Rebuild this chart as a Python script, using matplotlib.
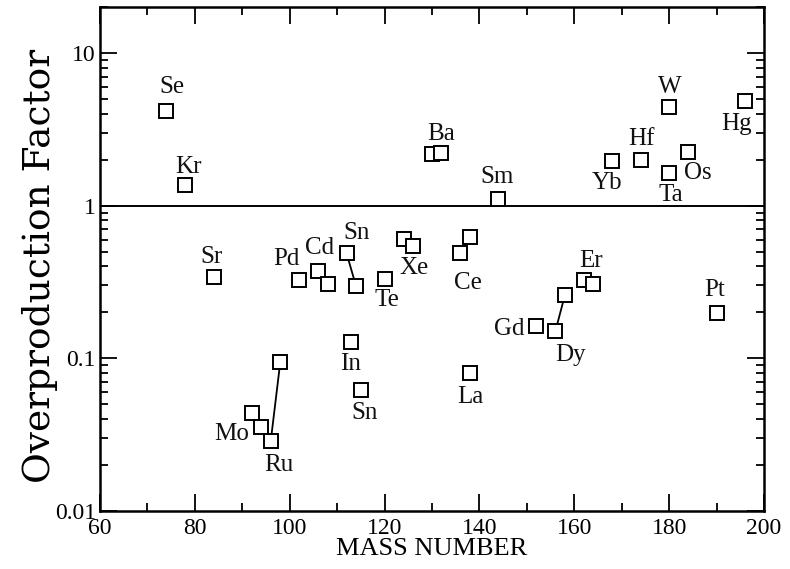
import matplotlib
matplotlib.use("Agg")
import matplotlib.pyplot as plt
from matplotlib.ticker import LogLocator, NullFormatter, MultipleLocator

# ---- data ----
mass = [74, 78, 84, 92, 94, 96, 98, 102, 106, 108, 112, 113, 114, 115, 120,
        124, 126, 130, 132, 136, 138, 138, 144, 152, 156, 158, 162, 164,
        168, 174, 180, 180, 184, 190, 196]
factor = [4.18, 1.37, 0.343, 0.0437, 0.0354, 0.0287, 0.094, 0.324, 0.376, 0.309,
          0.486, 0.127, 0.296, 0.0618, 0.333,
          0.608, 0.548, 2.19, 2.2, 0.486, 0.627, 0.0798, 1.11, 0.162, 0.150, 0.258,
          0.328, 0.305, 1.97, 2.0, 4.44, 1.64, 2.25, 0.197, 4.85]

# pairs of isotopes joined by a line (indices into mass/factor)
links = [(5, 6), (10, 12), (19, 20), (24, 25)]

# element labels: (index of point, text)
label_idx = [0, 1, 2, 4, 5, 7, 8, 10, 11, 13, 14, 16, 17, 19, 21, 22, 23, 24,
             26, 28, 29, 30, 31, 32, 33, 34]
label_txt = ["Se", "Kr", "Sr", "Mo", "Ru", "Pd", "Cd", "Sn", "In", "Sn", "Te", "Xe",
             "Ba", "Ce", "La", "Sm", "Gd", "Dy", "Er", "Yb", "Hf", "W", "Ta", "Os",
             "Pt", "Hg"]
# label offsets in pixels (layout)
label_off = [(6, 24), (3, 18), (-2, 20), (-30, -7), (8, -24), (-13, 21), (1, 23),
             (10, 20), (-1, -22), (4, -23), (2, -21), (1, -22), (9, 20), (7, -30),
             (0, -24), (-1, 22), (-27, -3), (15, -24), (7, 19), (-5, -22), (1, 21),
             (1, 20), (2, -22), (10, -21), (-2, 23), (-8, -23)]

xticks = [60, 80, 100, 120, 140, 160, 180, 200]
yticks = [0.01, 0.1, 1, 10]
ytick_labels = ["0.01", "0.1", "1", "10"]

serif = ["Liberation Serif", "DejaVu Serif"]

fig = plt.figure(figsize=(7.9, 5.69), dpi=100)
ax = fig.add_axes([100 / 790, 1 - 511 / 569, 664 / 790, 504 / 569])

ax.set_yscale("log")
ax.set_xlim(60, 200)
ax.set_ylim(0.01, 20)

ax.axhline(1, color="black", lw=1.4, zorder=1)

for i, j in links:
    ax.plot([mass[i], mass[j]], [factor[i], factor[j]], color="black", lw=1.3, zorder=2)

ax.plot(mass, factor, linestyle="none", marker="s", markersize=10.5,
        markerfacecolor="white", markeredgecolor="black", markeredgewidth=1.4, zorder=3)

for k, txt, off in zip(label_idx, label_txt, label_off):
    ax.annotate(txt, (mass[k], factor[k]), xytext=off, textcoords="offset pixels",
                ha="center", va="center", fontsize=18, family=serif, color="#111111")

ax.set_xticks(xticks)
ax.set_xticklabels([str(t) for t in xticks], family=serif, fontsize=17)
ax.xaxis.set_minor_locator(MultipleLocator(10))
ax.set_yticks(yticks)
ax.set_yticklabels(ytick_labels, family=serif, fontsize=17)
ax.yaxis.set_minor_locator(LogLocator(base=10, subs=range(2, 10)))
ax.yaxis.set_minor_formatter(NullFormatter())

ax.tick_params(which="both", direction="in", top=True, right=True, colors="black", width=1.3)
ax.tick_params(which="major", length=12, pad=3)
ax.tick_params(which="minor", length=6)
ax.tick_params(axis="x", which="major", pad=5)

for s in ax.spines.values():
    s.set_linewidth(1.8)

ax.set_xlabel("MASS NUMBER", family=serif, fontsize=19, labelpad=-1)
ax.set_ylabel("Overproduction Factor", family=["DejaVu Serif"], fontsize=27, va="center")
ax.yaxis.set_label_coords(-0.0904, 0.486)

fig.savefig("out.png", dpi=100)
